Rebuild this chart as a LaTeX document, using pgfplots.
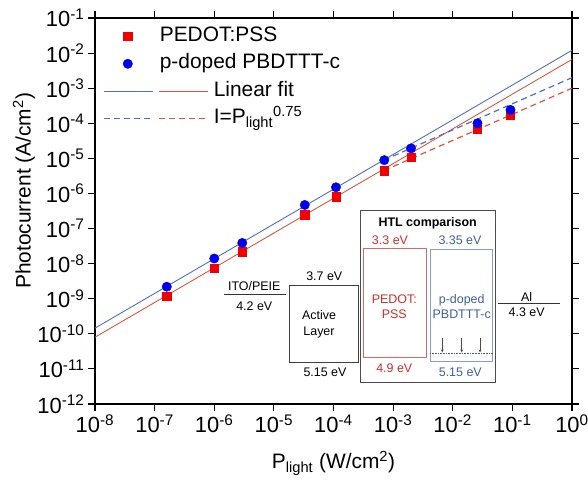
\documentclass[border=0pt]{standalone}
\usepackage{pgfplots}
\pgfplotsset{compat=1.18}
\usepackage{pgfplotstable}
\usepackage{fontspec}
\setmainfont{Liberation Sans}
\usetikzlibrary{arrows.meta}

\definecolor{mred}{RGB}{240,0,0}
\definecolor{mblue}{RGB}{0,0,240}
\definecolor{fitblue}{RGB}{80,110,200}
\definecolor{fitred}{RGB}{220,85,65}
\definecolor{txtred}{RGB}{205,45,45}
\definecolor{txtblue}{RGB}{65,95,155}
\definecolor{boxred}{RGB}{215,105,105}
\definecolor{boxblue}{RGB}{130,160,200}

% P_light (W/cm2)  photocurrent (A/cm2)
\pgfplotstableread{
P I
1.6e-7 1.2e-9
1.0e-6 7.5e-9
2.95e-6 2.2e-8
3.3e-5 2.5e-7
1.1e-4 8.1e-7
7.1e-4 4.5e-6
2.0e-3 1.1e-5
2.6e-2 6.8e-5
9.3e-2 1.7e-4
}\pedot
\pgfplotstableread{
P I
1.6e-7 2.2e-9
1.0e-6 1.4e-8
2.95e-6 3.9e-8
3.3e-5 4.7e-7
1.1e-4 1.5e-6
7.1e-4 8.9e-6
2.0e-3 1.93e-5
2.6e-2 1.0e-4
9.3e-2 2.4e-4
}\pbdttt

\pgfplotsset{
  sqleg/.style={legend image code/.code={\path[draw=none, fill=none] (-110bp,-5bp) rectangle (0bp,5bp);
    \path[mark options={fill=mred, draw=mred}] plot[mark=square*, mark size=4.2bp] coordinates {(-86bp,0bp)};}},
  cileg/.style={legend image code/.code={\path[draw=none, fill=none] (-110bp,-5bp) rectangle (0bp,5bp);
    \path[mark options={fill=mblue, draw=mblue}] plot[mark=*, mark size=4.7bp] coordinates {(-86bp,0bp)};}},
  fitleg/.style={legend image code/.code={
    \draw[fitblue, line width=0.9bp] (-110bp,0bp) -- (-61bp,0bp);
    \draw[fitred, line width=0.9bp] (-55bp,0bp) -- (-6bp,0bp);}},
  pwleg/.style={legend image code/.code={
    \draw[fitblue, line width=1.2bp, dash pattern=on 6bp off 4bp] (-110bp,0bp) -- (-61bp,0bp);
    \draw[fitred, line width=1.2bp, dash pattern=on 6bp off 4bp] (-55bp,0bp) -- (-6bp,0bp);}},
}

\begin{document}
\begin{tikzpicture}
\begin{axis}[
  scale only axis, width=477bp, height=386bp,
  xmode=log, ymode=log,
  xmin=1e-8, xmax=1, ymin=1e-12, ymax=1e-1,
  xtick={1e-8,1e-7,1e-6,1e-5,1e-4,1e-3,1e-2,1e-1,1},
  xticklabels={10\textsuperscript{-8},10\textsuperscript{-7},10\textsuperscript{-6},10\textsuperscript{-5},10\textsuperscript{-4},10\textsuperscript{-3},10\textsuperscript{-2},10\textsuperscript{-1},10\textsuperscript{0}},
  ytick={1e-12,1e-11,1e-10,1e-9,1e-8,1e-7,1e-6,1e-5,1e-4,1e-3,1e-2,1e-1},
  yticklabels={10\textsuperscript{-12},10\textsuperscript{-11},10\textsuperscript{-10},10\textsuperscript{-9},10\textsuperscript{-8},10\textsuperscript{-7},10\textsuperscript{-6},10\textsuperscript{-5},10\textsuperscript{-4},10\textsuperscript{-3},10\textsuperscript{-2},10\textsuperscript{-1}},
  xminorticks=false, yminorticks=false,
  tick align=outside, major tick length=7bp,
  every tick/.style={black, line width=1.1bp},
  axis line style={line width=1.2bp},
  tick label style={font=\fontsize{22}{24}\selectfont},
  label style={font=\fontsize{21}{24}\selectfont},
  xlabel={P\textsubscript{light} (W/cm\textsuperscript{2})},
  ylabel={Photocurrent (A/cm\textsuperscript{2})},
  xlabel style={at={(axis description cs:0.5,-0.168)}, anchor=base},
  ylabel style={at={(axis description cs:-0.149,0.552)}, anchor=center},
  legend cell align=left,
  legend style={at={(axis description cs:0.0168,0.979)}, anchor=north west,
    draw=none, fill=none, inner sep=0pt, column sep=0pt, row sep=7.5bp,
    font=\fontsize{21}{24}\selectfont,
    nodes={inner xsep=0pt, inner ysep=0pt, text height=15bp, text depth=5bp}},
]
% fits
\addplot[fitblue, line width=0.9bp, forget plot] coordinates {(1e-8,1.45e-10) (1,1.2e-2)};
\addplot[fitred, line width=0.9bp, forget plot] coordinates {(1e-8,8e-11) (1,6.6e-3)};
\addplot[fitblue, line width=1.2bp, dash pattern=on 6bp off 4bp, forget plot] coordinates {(7e-4,8.9e-6) (1,2.0e-3)};
\addplot[fitred, line width=1.2bp, dash pattern=on 6bp off 4bp, forget plot] coordinates {(7e-4,4.5e-6) (1,1.0e-3)};
% data
\addplot[only marks, mark=square*, mark size=4.2bp, mark options={fill=mred, draw=mred}, sqleg] table {\pedot};
\addplot[only marks, mark=*, mark size=4.7bp, mark options={fill=mblue, draw=mblue}, cileg] table {\pbdttt};
\addlegendimage{fitleg}
\addlegendimage{pwleg}
\legend{\hspace*{-54bp}PEDOT:PSS, \hspace*{-54bp}p-doped PBDTTT-c, Linear fit, I=P\textsubscript{light}\textsuperscript{0.75}}
\end{axis}

% energy level inset
\begin{scope}[x=1bp, y=-1bp, shift={(-95bp,404bp)},
  font=\fontsize{12.5}{15.3}\selectfont, every node/.style={inner sep=0pt}]
  \draw[black!80, line width=0.8bp] (224,294.3) -- (286,294.3);
  \node at (254.3,286.3) {ITO/PEIE};
  \node at (254.3,306) {4.2 eV};
  \draw[black!75, line width=0.8bp] (289.3,285) rectangle (358,362.3);
  \node at (324.3,276.7) {3.7 eV};
  \node[align=center] at (319,324.2) {Active\\Layer};
  \node at (325,372.7) {5.15 eV};
  \draw[black!70, line width=0.8bp] (360.7,210.7) rectangle (495.3,382.7);
  \node at (427.7,223.3) {\bfseries HTL comparison};
  \node[text=txtred] at (390,240.7) {3.3 eV};
  \node[text=txtblue] at (460,240.7) {3.35 eV};
  \draw[boxred, line width=0.8bp] (363.3,248.3) rectangle (426,357.7);
  \draw[boxblue, line width=0.8bp] (430,249.3) rectangle (492.7,361);
  \draw[txtblue, line width=0.6bp, densely dotted] (430,353.3) -- (492.7,353.3);
  \foreach \ax in {442.3,461.7,480}
    \draw[black!70, line width=0.5bp, -{Stealth[length=3bp,width=2.6bp]}] (\ax,337.7) -- (\ax,352.5);
  \node[text=txtred, align=center] at (394.3,306.7) {PEDOT:\\PSS};
  \node[text=txtblue, align=center] at (461.7,306.7) {p-doped\\PBDTTT-c};
  \node[text=txtred] at (394.3,368.3) {4.9 eV};
  \node[text=txtblue] at (460.3,372.7) {5.15 eV};
  \draw[black!80, line width=0.8bp] (498.3,303.3) -- (560,303.3);
  \node[anchor=base] at (526.7,301.3) {Al};
  \node at (526.7,312.7) {4.3 eV};
\end{scope}

\pgfresetboundingbox
\path[use as bounding box] (-95bp,-77bp) rectangle (493bp,404bp);
\end{tikzpicture}
\end{document}
